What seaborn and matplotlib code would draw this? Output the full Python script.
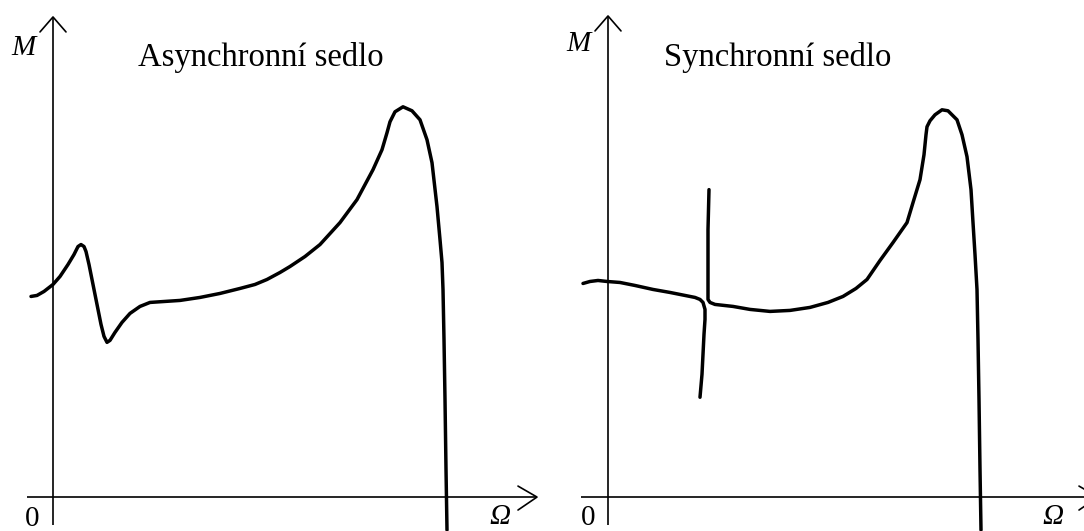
import matplotlib
matplotlib.use("Agg")
import matplotlib.pyplot as plt
import seaborn as sns
import pandas as pd

sns.set_theme(style="white")
plt.rcParams["font.family"] = ["Liberation Serif", "DejaVu Serif"]
plt.rcParams["text.color"] = "black"

# Torque M versus speed Omega, both panels share the same scale (origin at 0,0)
titles = ["Asynchronní sedlo", "Synchronní sedlo"]

# Asynchronous saddle: a single continuous curve
async_omega = [-22, -16, -9, 0, 7, 15, 21, 25, 28, 31, 33, 36, 40, 44, 48, 51, 54,
               57, 62, 69, 77, 87, 97, 112, 127, 147, 167, 187, 202, 214, 227, 237,
               252, 267, 287, 304, 320, 329, 334, 337, 342, 350, 359, 367, 374, 379,
               384, 387, 389, 390, 391, 392, 393, 394]
async_m = [201, 202, 206, 213, 221, 233, 243, 251, 253, 251, 246, 233, 213, 193,
           173, 161, 155, 157, 165, 175, 184, 191, 195, 196, 197, 200, 204, 209,
           213, 218, 225, 231, 241, 253, 275, 298, 328, 348, 365, 376, 386, 391,
           387, 378, 358, 335, 291, 258, 235, 208, 158, 98, 28, -33]

# Synchronous saddle: left branch bending down at the synchronous speed
sync_a_omega = [-25, -18, -10, -1, 12, 27, 45, 62, 77, 87, 92, 95, 97, 97, 96, 95,
                94, 92]
sync_a_m = [214, 216, 217, 216, 215, 212, 208, 205, 202, 200, 198, 195, 188, 178,
            163, 143, 123, 100]

# Synchronous saddle: spike from above continuing into the right branch
sync_b_omega = [101, 100, 100, 100, 102, 107, 125, 142, 162, 182, 202, 220, 235,
                248, 259, 272, 285, 299, 305, 312, 316, 318, 319, 322, 327, 334,
                340, 349, 354, 359, 363, 365, 367, 369, 370, 371, 372, 373]
sync_b_m = [308, 268, 228, 198, 195, 193, 191, 188, 186, 187, 190, 195, 201, 209,
            218, 237, 255, 275, 295, 318, 343, 363, 371, 377, 383, 388, 387, 378,
            363, 341, 308, 275, 243, 208, 158, 98, 28, -33]

panels = [
    dict(title=titles[0], xlim=(-53, 489), ylim=(-34, 498), top=481, bottom=-28,
         left=-26, right=484, strokes=[(async_omega, async_m)],
         title_x=208, m_x=-30, m_y=450, zero_x=-21, zero_y=-22, om_x=447, om_y=-20),
    dict(title=titles[1], xlim=(-66, 476), ylim=(-34, 498), top=482, bottom=-28,
         left=-27, right=490, strokes=[(sync_a_omega, sync_a_m), (sync_b_omega, sync_b_m)],
         title_x=170, m_x=-30, m_y=454, zero_x=-20, zero_y=-21, om_x=445, om_y=-20),
]

fig = plt.figure(figsize=(10.84, 5.31), dpi=100)
axes = [fig.add_axes([0.0, 0.0, 0.5, 1.0]), fig.add_axes([0.5, 0.0, 0.5, 1.0])]

for ax, p in zip(axes, panels):
    ax.set_xlim(*p["xlim"])
    ax.set_ylim(*p["ylim"])
    ax.set_axis_off()
    # coordinate axes with open arrow heads
    ax.plot([0, 0], [p["bottom"], p["top"]], color="black", lw=1.2, solid_capstyle="butt")
    ax.plot([-13, 0, 13], [p["top"] - 15, p["top"], p["top"] - 15], color="black", lw=1.2)
    ax.plot([p["left"], p["right"]], [0, 0], color="black", lw=1.2, solid_capstyle="butt")
    ax.plot([p["right"] - 19, p["right"], p["right"] - 19], [11, 0, -13], color="black", lw=1.2)
    for om, m in p["strokes"]:
        df = pd.DataFrame({"Omega": om, "M": m})
        sns.lineplot(data=df, x="Omega", y="M", sort=False, estimator=None, ax=ax,
                     color="black", lw=2.5, solid_joinstyle="round",
                     solid_capstyle="round")
    ax.set_xlabel("")
    ax.set_ylabel("")
    ax.text(p["title_x"], 432, p["title"], ha="center", va="baseline", fontsize=23.5)
    ax.text(p["m_x"], p["m_y"], "M", ha="center", va="center", fontsize=21, style="italic")
    ax.text(p["zero_x"], p["zero_y"], "0", ha="center", va="center", fontsize=21)
    ax.text(p["om_x"], p["om_y"], "Ω", ha="center", va="center", fontsize=21, style="italic")

fig.savefig("out.png", dpi=100, facecolor="white")
